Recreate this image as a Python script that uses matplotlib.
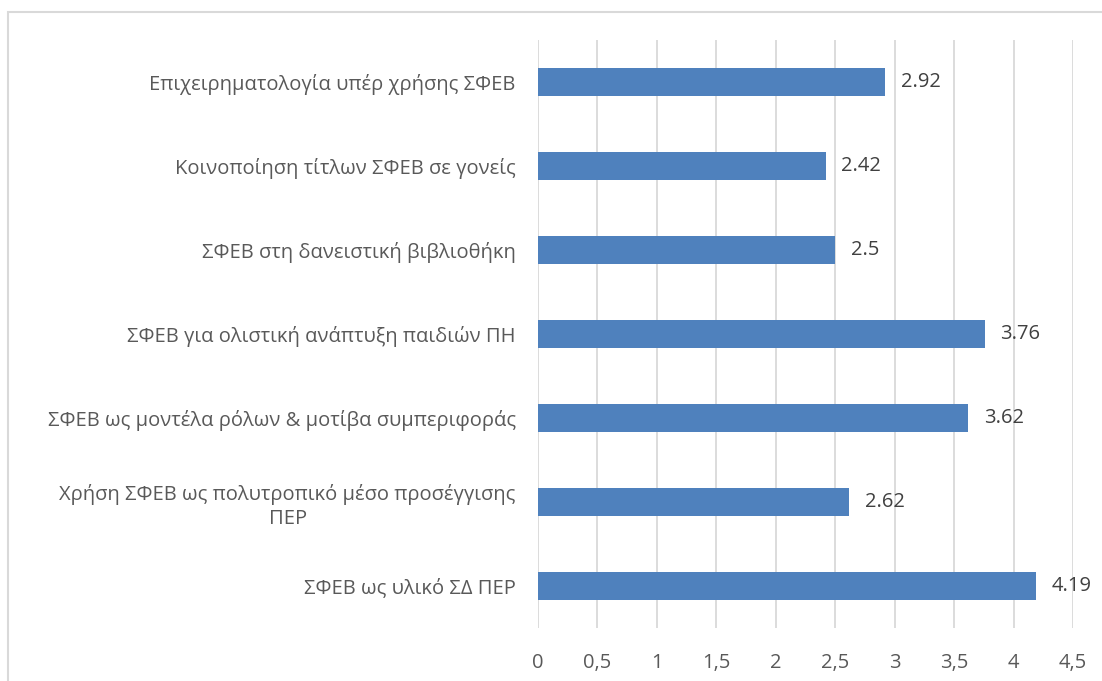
# horizontal bar chart - mean scores per statement
import matplotlib.pyplot as plt
from matplotlib.patches import Rectangle

plt.rcParams['font.family'] = ['Open Sans', 'DejaVu Sans']

labels = [
    "ΣΦΕΒ ως υλικό ΣΔ ΠΕΡ",
    "Χρήση ΣΦΕΒ ως πολυτροπικό μέσο προσέγγισης\nΠΕΡ",
    "ΣΦΕΒ ως μοντέλα ρόλων & μοτίβα συμπεριφοράς",
    "ΣΦΕΒ για ολιστική ανάπτυξη παιδιών ΠΗ",
    "ΣΦΕΒ στη δανειστική βιβλιοθήκη",
    "Κοινοποίηση τίτλων ΣΦΕΒ σε γονείς",
    "Επιχειρηματολογία υπέρ χρήσης ΣΦΕΒ",
]
values = [4.19, 2.62, 3.62, 3.76, 2.5, 2.42, 2.92]
xticks = [0, 0.5, 1, 1.5, 2, 2.5, 3, 3.5, 4, 4.5]
xtick_labels = ["0", "0,5", "1", "1,5", "2", "2,5", "3", "3,5", "4", "4,5"]

bar_color = "#4F81BD"
text_color = "#595959"
grid_color = "#D9D9D9"
fs = 14.5

fig = plt.figure(figsize=(11.02, 6.81), dpi=100)
fig.patch.set_facecolor("white")

# chart-area border (runs off the right and bottom edges)
fig.patches.append(Rectangle((8 / 1102, -0.1), 1.2, 1 - 12 / 681 + 0.1,
                             transform=fig.transFigure, fill=False,
                             edgecolor=grid_color, lw=1.5))

ax = fig.add_axes([538 / 1102, 53 / 681, 535 / 1102, 588 / 681])

pos = list(range(len(labels)))
ax.barh(pos, values, height=0.345, color=bar_color, zorder=3)

for p, v in zip(pos, values):
    ax.text(v + 0.13, p, f"{v:g}", va="center", ha="left",
            fontsize=fs, color="#404040")

ax.set_xlim(0, 4.5)
ax.set_ylim(-0.5, len(labels) - 0.5)
ax.set_xticks(xticks)
ax.set_xticklabels(xtick_labels)
ax.set_yticks(pos)
ax.set_yticklabels(labels, multialignment="center", linespacing=1.25)

ax.grid(axis="x", color=grid_color, lw=1.3, zorder=0)
ax.tick_params(axis="both", length=0, labelsize=fs, colors=text_color)
ax.tick_params(axis="x", pad=18)
ax.tick_params(axis="y", pad=16)
for spine in ax.spines.values():
    spine.set_visible(False)

plt.savefig("out.png", dpi=100, facecolor=fig.get_facecolor())
plt.close()
